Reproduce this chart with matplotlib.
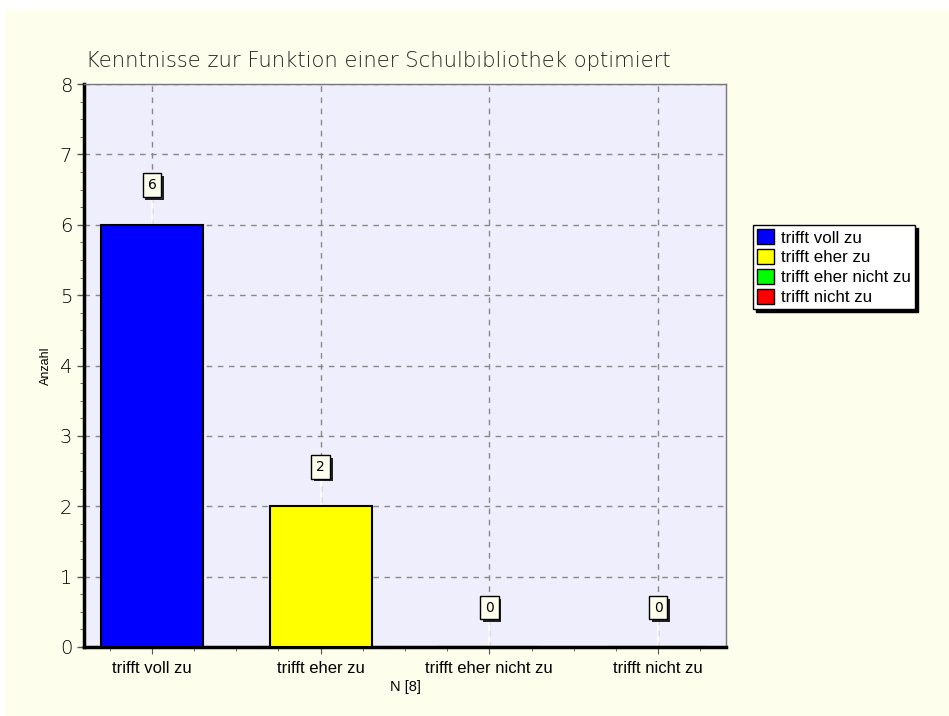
import matplotlib
matplotlib.use("Agg")
import matplotlib.pyplot as plt
from matplotlib.patches import Rectangle
from matplotlib.ticker import MultipleLocator
from matplotlib import patheffects
import numpy as np

categories = ["trifft voll zu", "trifft eher zu", "trifft eher nicht zu", "trifft nicht zu"]
values = [6, 2, 0, 0]
colors = ["#0000FF", "#FFFF00", "#00FF00", "#FF0000"]
title = "Kenntnisse zur Funktion einer Schulbibliothek optimiert"
ylabel = "Anzahl"
xlabel = "N [8]"

fig = plt.figure(figsize=(9.49, 7.16), dpi=100)
fig.patch.set_facecolor("white")
fig.add_artist(Rectangle((5/949, 0), 1, 1 - 10/716, transform=fig.transFigure,
                         facecolor="#FEFEEC", edgecolor="none", zorder=-10))

ax = fig.add_axes([84/949, 1 - 647/716, (726-84)/949, (647-84)/716])
ax.set_facecolor("#EEEEFC")
x = np.arange(len(categories))
bars = ax.bar(x, values, width=0.605, color=colors, edgecolor="black", linewidth=1.5, zorder=3)

ax.set_xlim(-0.403, 3.403)
ax.set_ylim(0, 8)
ax.yaxis.set_major_locator(MultipleLocator(1))
ax.yaxis.set_minor_locator(MultipleLocator(0.25))
ax.set_xticks(x)
ax.set_xticklabels(categories, fontsize=12, family="Liberation Sans")
ax.xaxis.set_minor_locator(MultipleLocator(0.25))
ax.tick_params(axis="y", which="major", length=5, labelsize=14, width=1, color="#555555")
ax.tick_params(axis="y", which="minor", length=3, color="#555555")
ax.tick_params(axis="x", which="major", length=5, pad=5, color="#555555")
ax.tick_params(axis="x", which="minor", length=3, color="#555555")
for lab in ax.get_yticklabels():
    lab.set_family("DejaVu Sans")
    lab.set_fontweight("light")

ax.grid(True, which="major", color="#888888", linestyle=(0, (4, 4)), linewidth=1, zorder=1)
for s in ["top", "right"]:
    ax.spines[s].set_color("#777777")
    ax.spines[s].set_linewidth(1)
for s in ["left", "bottom"]:
    ax.spines[s].set_color("black")
    ax.spines[s].set_linewidth(2.5)

ax.set_title(title, loc="left", fontsize=15.2, family="DejaVu Sans", color="#222222",
             fontweight="light", pad=12, x=0.003)
ax.set_ylabel(ylabel, fontsize=9, family="Liberation Sans")
ax.yaxis.set_label_coords(-0.05, 0.5)
ax.set_xlabel(xlabel, fontsize=10.5, family="Liberation Sans", labelpad=3)

for xi, v in zip(x, values):
    ly = v + 0.56
    ax.plot([xi, xi], [v, ly], color="white", linewidth=1.2, zorder=2)
    t = ax.annotate(str(v), (xi, ly), ha="center", va="center", fontsize=10,
                    family="DejaVu Sans", zorder=5,
                    bbox=dict(boxstyle="square,pad=0.35", facecolor="#FEFEEC", edgecolor="black", linewidth=1))
    t.get_bbox_patch().set_path_effects([
        patheffects.withSimplePatchShadow(offset=(2, -2), shadow_rgbFace="#222222", alpha=1),
    ])

handles = [Rectangle((0, 0), 1, 1, facecolor=c, edgecolor="black", linewidth=1) for c in colors]
leg = fig.legend(handles, categories, loc="upper left", bbox_to_anchor=(753/949, 1 - 225/716),
                 frameon=True, fancybox=False, shadow={"color": "black", "alpha": 1},
                 borderpad=0.25, labelspacing=0.2, handlelength=1.0, handleheight=1.0,
                 handletextpad=0.4, borderaxespad=0, prop={"family": "Liberation Sans", "size": 12.2})
leg.get_frame().set_edgecolor("black")
leg.get_frame().set_linewidth(1)

fig.savefig("out.png", dpi=100, facecolor=fig.get_facecolor())
